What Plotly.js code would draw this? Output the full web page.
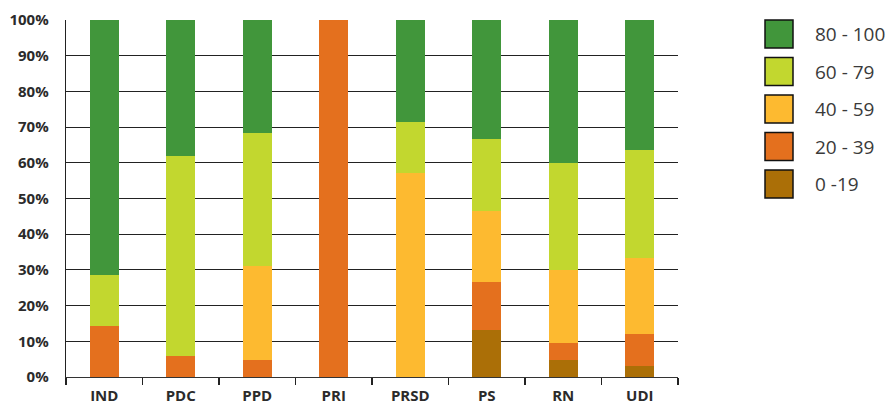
<!DOCTYPE html>
<html>
<head>
<meta charset="utf-8">
<script src="https://cdn.plot.ly/plotly-3.0.1.min.js"></script>
<style>html,body{margin:0;padding:0;background:#fff;}#chart{width:889px;height:404px;}</style>
</head>
<body>
<div id="chart"></div>
<script>
// Data (percent of each party's members per band)
var categories = ["IND", "PDC", "PPD", "PRI", "PRSD", "PS", "RN", "UDI"];
var band_0_19   = [0,    0,    0,    0,   0,    13.3, 4.8,  3.0];
var band_20_39  = [14.3, 5.9,  4.8,  100, 0,    13.3, 4.8,  9.1];
var band_40_59  = [0,    0,    26.3, 0,   57.1, 20.0, 20.4, 21.2];
var band_60_79  = [14.3, 56.0, 37.2, 0,   14.3, 20.0, 30.0, 30.3];
var band_80_100 = [71.4, 38.1, 31.7, 0,   28.6, 33.4, 40.0, 36.4];
var seriesNames = ["0 -19", "20 - 39", "40 - 59", "60 - 79", "80 - 100"];
var yTickVals = [0, 10, 20, 30, 40, 50, 60, 70, 80, 90, 100];

var colors = ["#ab6f07", "#e4701e", "#fdba30", "#c2d72f", "#41963b"];
var seriesValues = [band_0_19, band_20_39, band_40_59, band_60_79, band_80_100];

var traces = seriesValues.map(function (vals, i) {
  return {
    type: "bar",
    name: seriesNames[i],
    x: categories,
    y: vals,
    marker: { color: colors[i], line: { width: 0 } },
    showlegend: false,
    hoverinfo: "x+y+name"
  };
});

// plot area in pixels
var W = 889, H = 404, L = 66, R = 678, T = 20, B = 377;
function px(x) { return (x - L) / (R - L); }
function py(y) { return (B - y) / (B - T); }

// legend (top item first: 80 - 100)
var shapes = [], annotations = [];
var boxTop0 = 20, pitch = 37.5, boxSize = 28, boxLeft = 765, textLeft = 813;
for (var k = 0; k < seriesNames.length; k++) {
  var idx = seriesNames.length - 1 - k;
  var boxTop = boxTop0 + k * pitch;
  shapes.push({
    type: "rect", xref: "paper", yref: "paper",
    x0: px(boxLeft), x1: px(boxLeft + boxSize),
    y0: py(boxTop + boxSize), y1: py(boxTop),
    fillcolor: colors[idx],
    line: { color: "#111", width: 1.5 }
  });
  annotations.push({
    xref: "paper", yref: "paper",
    x: px(textLeft), y: py(boxTop + boxSize / 2),
    xanchor: "left", yanchor: "middle",
    text: seriesNames[idx], showarrow: false,
    font: { family: "Open Sans", size: 19, color: "#3a3a3a" }
  });
}

var layout = {
  width: W, height: H,
  margin: { l: L, r: W - R, t: T, b: H - B, pad: 0 },
  paper_bgcolor: "#fff", plot_bgcolor: "#fff",
  barmode: "stack",
  bargap: 0.62,
  showlegend: false,
  xaxis: {
    type: "category",
    tickson: "boundaries",
    ticks: "outside", ticklen: 7, tickwidth: 1.3, tickcolor: "#222",
    showline: true, linecolor: "#333", linewidth: 1.3,
    showgrid: false,
    ticklabelstandoff: 5,
    tickfont: { family: "Open Sans", size: 15, color: "#2b2b2b", weight: "bold" }
  },
  yaxis: {
    range: [0, 100],
    tickvals: yTickVals,
    ticktext: yTickVals.map(function (v) { return v + "%"; }),
    showgrid: true, gridcolor: "#222", gridwidth: 1.2,
    showline: true, linecolor: "#222", linewidth: 1.3,
    zeroline: false,
    ticks: "", ticklabelstandoff: 13,
    tickfont: { family: "Open Sans", size: 15, color: "#2b2b2b", weight: "bold" },
    fixedrange: true
  },
  shapes: shapes,
  annotations: annotations,
  font: { family: "Open Sans" }
};

Plotly.newPlot("chart", traces, layout, { displayModeBar: false, staticPlot: true });
</script>
</body>
</html>
